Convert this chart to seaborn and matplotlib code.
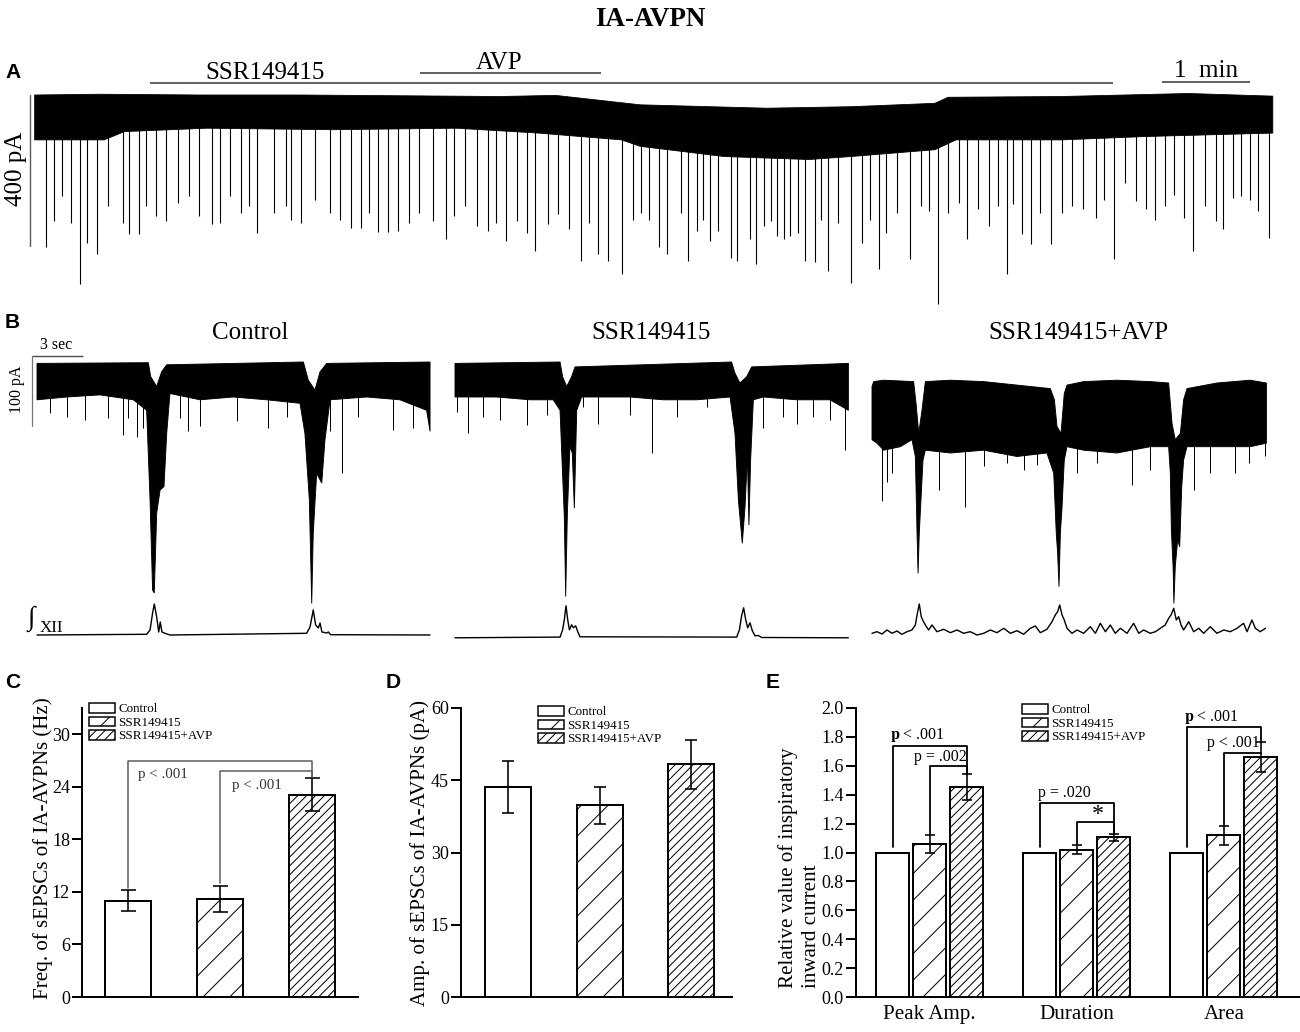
import numpy as np
import pandas as pd
import matplotlib
matplotlib.use("Agg")
import matplotlib.pyplot as plt
import seaborn as sns
from matplotlib.patches import Patch

# ======================= DATA =======================
conditions = ["Control", "SSR149415", "SSR149415+AVP"]
hatches = ["", "/", "///"]

# ---- Panel A : long recording (time in min, current in pA; 0 = top of baseline band)
a_top_t = [0.03, 0.77, 1.91, 3.05, 4.18, 5.32, 5.95, 6.68, 6.91, 8.35, 9.31, 10.26, 10.41, 11.70, 13.14, 14.10]
a_top_pA = [0, 2, 0, 0, -2, -4, -1, -20, -26, -35, -31, -22, -6, -4, 4, -3]
a_bot_t = [0.03, 0.82, 1.05, 1.99, 3.41, 4.82, 5.76, 6.70, 6.91, 7.86, 8.83, 9.31, 10.26, 10.50, 11.70, 12.66, 14.10]
a_bot_pA = [-119, -119, -97, -88, -92, -88, -101, -119, -136, -163, -171, -163, -145, -119, -119, -110, -101]
a_spike_t = [0.16, 0.25, 0.34, 0.44, 0.54, 0.63, 0.74, 0.86, 1.03, 1.10, 1.22, 1.29, 1.41, 1.52, 1.66, 1.78,
             1.90, 2.04, 2.14, 2.25, 2.37, 2.47, 2.56, 2.75, 2.89, 2.94, 3.06, 3.22, 3.39, 3.50, 3.62, 3.74,
             3.83, 3.93, 4.05, 4.16, 4.28, 4.40, 4.56, 4.71, 4.80, 4.92, 5.06, 5.18, 5.27, 5.39, 5.51, 5.63,
             5.72, 5.86, 5.98, 6.10, 6.24, 6.33, 6.43, 6.54, 6.71, 6.83, 6.92,
             7.01, 7.13, 7.22, 7.37, 7.46, 7.56, 7.63, 7.70, 7.80, 7.94, 8.01, 8.16, 8.23, 8.32, 8.40, 8.47,
             8.54, 8.61, 8.71, 8.78, 8.90, 8.97, 9.04, 9.16, 9.31, 9.43, 9.52, 9.62, 9.71, 9.83, 9.98, 10.10,
             10.19, 10.29, 10.41, 10.53, 10.63, 10.75, 10.87, 10.98, 11.08, 11.15, 11.25, 11.35, 11.46, 11.58,
             11.70, 11.82, 11.94, 12.09, 12.18, 12.30, 12.42, 12.54, 12.66, 12.76, 12.88, 12.98, 13.09, 13.19,
             13.33, 13.46, 13.53, 13.65, 13.74, 13.84, 13.93, 14.06]
a_spike_pA = [-404, -334, -268, -338, -501, -391, -422, -294, -338, -369, -369, -294, -321, -334, -286, -268,
              -321, -343, -338, -268, -312, -294, -365, -312, -294, -330, -338, -277, -312, -330, -352, -352,
              -312, -363, -363, -360, -338, -312, -334, -382, -321, -294, -347, -360, -338, -387, -334, -365,
              -413, -343, -316, -356, -440, -338, -422, -440, -475, -330, -312,
              -330, -404, -422, -312, -440, -360, -330, -387, -360, -431, -440, -382, -448, -347, -334, -374,
              -382, -374, -365, -440, -442, -330, -466, -338, -497, -391, -330, -461, -365, -312, -435, -294,
              -308, -554, -312, -286, -382, -303, -347, -294, -475, -290, -369, -396, -312, -396, -312, -294,
              -303, -325, -277, -435, -233, -281, -303, -330, -294, -264, -325, -413, -294, -334, -356, -272,
              -268, -277, -308, -378]
ssr_on_off = [1.34, 12.28]      # min
avp_on_off = [4.41, 6.47]       # min
a_time_bar = [12.84, 13.84]     # 1 min
a_scale_pA = 400

# ---- Panel B : expanded traces (time in s, current in pA), integrated XII (a.u.)
ctrl_up_t = [0.0, 6.55, 6.69, 7.04, 7.33, 7.63, 15.67, 15.96, 16.35, 16.65, 17.04, 23.12]
ctrl_up_pA = [-2, -1, -21, -35, -14, -4, 0, -26, -40, -14, -2, 0]
ctrl_lo_t = [0.0, 1.75, 3.71, 5.67, 6.45, 6.65, 6.80, 6.90, 7.04, 7.24, 7.47, 7.63, 7.82, 9.59, 11.55,
             13.51, 15.47, 15.76, 16.02, 16.16, 16.25, 16.45, 16.75, 16.94, 17.24, 19.39, 21.35, 22.92, 23.12]
ctrl_lo_pA = [-54, -50, -47, -54, -69, -197, -326, -330, -216, -183, -178, -102, -45, -54, -50,
              -54, -59, -102, -197, -345, -245, -159, -173, -111, -54, -50, -54, -69, -99]
ctrl_sp_t = [0.76, 1.75, 2.82, 4.20, 5.08, 5.37, 5.86, 6.25, 8.41, 8.90, 9.59, 11.75, 13.61, 14.69,
             17.24, 17.92, 18.90, 20.96, 22.14]
ctrl_sp_pA = [-73, -78, -83, -80, -104, -80, -107, -95, -80, -99, -92, -85, -95, -78, -99, -159, -78, -97, -95]
ctrl_xii_t = [0, 6.45, 6.65, 6.80, 6.90, 7.04, 7.16, 7.25, 7.35, 7.53, 7.82, 15.86, 16.06, 16.25, 16.39,
              16.55, 16.65, 16.76, 17.04, 17.14, 17.27, 23.12]
ctrl_xii = [0, 0.7, 5, 22, 31, 18, 3, 13, 3, 1.7, 0, 1.7, 8, 25, 10, 7, 12, 3, 2, 3, 0.3, 0]

ssr_up_t = [0, 6.18, 6.33, 6.57, 6.86, 7.06, 16.27, 16.47, 16.76, 17.16, 17.45, 23.14]
ssr_up_pA = [-2, 0, -21, -35, -21, -7, 0, -16, -30, -21, -7, -2]
ssr_lo_t = [0, 2.45, 4.41, 5.78, 6.18, 6.31, 6.43, 6.51, 6.61, 6.76, 6.90, 7.02, 7.16, 7.45, 10.29,
            12.25, 14.22, 16.18, 16.47, 16.67, 16.90, 17.06, 17.20, 17.29, 17.39, 17.55, 18.14, 20.10, 22.06, 23.14]
ssr_lo_pA = [-50, -50, -54, -54, -69, -149, -221, -335, -216, -121, -130, -209, -69, -50, -50,
             -54, -54, -50, -102, -197, -259, -207, -135, -233, -140, -54, -50, -54, -54, -69]
ssr_sp_t = [0.10, 0.78, 1.67, 2.65, 4.22, 5.39, 7.55, 8.43, 10.29, 11.57, 13.04, 14.80, 18.14, 19.31,
            20.10, 21.08, 22.06, 22.94]
ssr_sp_pA = [-71, -102, -78, -83, -90, -76, -64, -88, -76, -130, -78, -64, -95, -78, -88, -78, -83, -126]
ssr_xii_t = [0, 6.18, 6.33, 6.43, 6.53, 6.63, 6.73, 6.86, 6.96, 7.10, 7.20, 7.35, 16.57, 16.73, 16.86,
             16.98, 17.10, 17.22, 17.35, 17.49, 17.65, 17.84, 18.04, 23.14]
ssr_xii = [0, 0.7, 8, 18, 32, 18, 8, 13, 10, 12, 7, 1, 0.7, 8, 22, 30, 18, 10, 15, 7, 2, 2.3, 0.3, 0]

avp_up_t = [0.00, 0.10, 0.69, 2.45, 2.59, 2.75, 2.94, 3.14, 4.61, 6.57, 8.53, 10.49, 10.73, 10.88, 11.12,
            11.31, 11.47, 12.45, 14.41, 16.37, 17.45, 17.65, 17.84, 18.14, 18.33, 18.53, 20.29, 22.25, 23.20]
avp_up_pA = [-35, -28, -26, -28, -59, -102, -69, -28, -26, -28, -33, -38, -54, -92, -102,
             -45, -33, -28, -26, -28, -30, -88, -111, -102, -54, -38, -30, -26, -30]
avp_lo_t = [0.00, 0.29, 0.69, 1.67, 2.35, 2.55, 2.65, 2.71, 2.78, 2.88, 3.00, 3.14, 4.61, 6.57, 8.53,
            10.29, 10.69, 10.84, 10.92, 11.00, 11.08, 11.18, 11.31, 11.47, 12.45, 14.41, 16.37, 17.45,
            17.55, 17.61, 17.71, 17.76, 17.84, 17.98, 18.10, 18.22, 18.33, 18.53, 20.29, 22.25, 23.20]
avp_lo_pA = [-111, -116, -126, -121, -111, -135, -245, -302, -245, -197, -140, -126, -130, -126, -135,
             -130, -159, -245, -273, -321, -245, -207, -140, -121, -126, -130, -121, -121,
             -159, -240, -292, -345, -292, -254, -264, -178, -140, -121, -121, -121, -116]
avp_sp_t = [0.59, 0.88, 1.18, 3.92, 5.49, 6.57, 7.94, 8.92, 9.71, 12.06, 13.24, 15.29, 16.37, 18.92,
            19.90, 21.37, 22.16, 23.14]
avp_sp_pA = [-199, -171, -159, -183, -207, -149, -145, -154, -147, -159, -145, -176, -154, -183,
             -159, -159, -145, -135]
avp_xii_t = [0.00, 0.29, 0.59, 0.88, 1.18, 1.47, 1.76, 2.06, 2.35, 2.55, 2.65, 2.78, 2.90, 3.04, 3.20,
             3.33, 3.53, 3.82, 4.22, 4.61, 5.00, 5.39, 5.78, 6.18, 6.57, 6.96, 7.35, 7.75, 8.14, 8.53,
             8.92, 9.31, 9.61, 9.90, 10.29, 10.59, 10.78, 10.92, 11.04, 11.18, 11.31, 11.47, 11.76, 12.06,
             12.45, 12.84, 13.14, 13.43, 13.73, 14.02, 14.31, 14.61, 15.00, 15.39, 15.69, 15.98, 16.37,
             16.67, 16.96, 17.25, 17.45, 17.59, 17.75, 17.90, 18.04, 18.18, 18.33, 18.63, 18.92, 19.22,
             19.51, 19.90, 20.29, 20.69, 21.08, 21.47, 21.86, 22.06, 22.35, 22.55, 22.84, 23.14]
avp_xii = [1.7, 3.3, 1.0, 5.0, 1.7, 4.0, 0.7, 3.3, 5.0, 10, 20, 31, 18, 13, 8.3, 5, 10, 3.3, 5.7, 2.3,
           5, 1.7, 3.3, 0, 1.7, 5, 2.3, 6.7, 1.7, 4.3, 0.7, 6.7, 9, 2.3, 5.7, 13.3, 20, 23.3, 30, 20,
           15, 6.7, 1.7, 5, 1.7, 8.3, 1.7, 11.7, 3.3, 10, 1.7, 6.7, 1.7, 11.7, 1.7, 5, 1.7, 3.3, 6.7, 10,
           16.7, 20, 26.7, 15, 18.3, 10, 5, 13.3, 3.3, 6.7, 1.7, 8.3, 1.7, 5, 3.3, 6.7, 11.7, 3.3, 15, 6.7,
           3.3, 6.7]
b_titles = ["Control", "SSR149415", "SSR149415+AVP"]
b_time_bar = [-0.29, 2.71]    # 3 s
b_scale_pA = 100

# ---- Panel C : sEPSC frequency (Hz)
c_means = [11.0, 11.2, 23.1]
c_err = [1.2, 1.5, 1.9]
c_brackets = [(0, 2, 12.5, 27.0, 25.1), (1, 2, 13.0, 25.8, 25.1)]
c_p_labels = ["p < .001", "p < .001"]
c_p_xy = [(0.38, 25.4), (1.40, 24.2)]

# ---- Panel D : sEPSC amplitude (pA)
d_means = [43.6, 39.8, 48.3]
d_err = [5.3, 3.8, 5.1]

# ---- Panel E : relative inspiratory inward current
measures = ["Peak Amp.", "Duration", "Area"]
e_ctrl = [1.0, 1.0, 1.0]
e_ssr = [1.06, 1.02, 1.12]
e_ssr_err = [0.06, 0.03, 0.065]
e_avp = [1.45, 1.105, 1.66]
e_avp_err = [0.09, 0.025, 0.105]
e_brackets = [(0, 0, 2, 1.04, 1.74, 1.54), (0, 1, 2, 1.12, 1.60, 1.54),
              (1, 0, 2, 1.04, 1.344, 1.13), (1, 1, 2, 1.057, 1.21, 1.13),
              (2, 0, 2, 1.04, 1.87, 1.772), (2, 1, 2, 1.19, 1.69, 1.69)]
e_p_labels = [r"$\mathbf{p}$ < .001", "p = .002", "p = .020", "*", r"$\mathbf{p}$ < .001", "p < .001"]
e_p_xy = [(-0.085, 1.81), (0.076, 1.66), (0.915, 1.413), (1.144, 1.26), (1.915, 1.938), (2.065, 1.756)]

# ======================= STYLE =======================
sns.set_theme(style="white")
plt.rcParams["font.family"] = ["Liberation Serif", "DejaVu Serif"]
plt.rcParams["mathtext.fontset"] = "stix"
plt.rcParams["text.color"] = "black"
plt.rcParams["axes.labelcolor"] = "black"
plt.rcParams["xtick.color"] = "black"
plt.rcParams["ytick.color"] = "black"

W, H, DPI = 1300, 1032, 80
plt.rcParams["hatch.linewidth"] = 1.0 * 72 / DPI


def P(px):
    return px * 72.0 / DPI


fig = plt.figure(figsize=(W / DPI, H / DPI), dpi=DPI)
fig.patch.set_facecolor("white")


def ftext(x, y, s, **kw):
    return fig.text(x / W, 1 - y / H, s, **kw)


def px_axes(x0, y0, x1, y1):
    return fig.add_axes([x0 / W, 1 - y1 / H, (x1 - x0) / W, (y1 - y0) / H])


def set_trace_limits(ax, box, origin, xs, ys):
    x0, y0, x1, y1 = box
    ox, oy = origin
    ax.set_xlim((x0 - ox) / xs, (x1 - ox) / xs)
    ax.set_ylim(-(y1 - oy) / ys, -(y0 - oy) / ys)
    ax.axis("off")


SANS = ["Liberation Sans", "DejaVu Sans"]

# title and panel letters
ftext(650, 19, "IA-AVPN", ha="center", va="center", fontsize=P(27), fontweight="bold")
for letter, (lx, ly) in zip("ABCDE", [(5, 73), (5, 322), (5, 683), (386, 683), (766, 683)]):
    ftext(lx, ly, letter, ha="left", va="center", fontsize=P(21), fontweight="bold", family=SANS)

# ======================= PANEL A =======================
boxA = (0, 40, 1300, 320)
axA = px_axes(*boxA[:2], *boxA[2:])
axA.fill(a_top_t + a_bot_t[::-1], a_top_pA + a_bot_pA[::-1], color="black", lw=P(0.8))
a_start = np.interp(a_spike_t, a_bot_t, a_bot_pA) + 30
axA.vlines(a_spike_t, a_start, a_spike_pA, color="black", lw=P(1.1))
axA.plot(ssr_on_off, [31.8, 31.8], color="0.25", lw=P(1.6), solid_capstyle="butt")
axA.plot(avp_on_off, [58.3, 58.3], color="0.25", lw=P(1.6), solid_capstyle="butt")
axA.plot(a_time_bar, [34.5, 34.5], color="0.25", lw=P(1.6), solid_capstyle="butt")
axA.plot([-0.023, -0.023], [0, -a_scale_pA], color="0.35", lw=P(1.4))
axA.text(2.65, 58.3, "SSR149415", ha="center", va="center", fontsize=P(25))
axA.text(5.31, 84.8, "AVP", ha="center", va="center", fontsize=P(25))
axA.text(13.34, 63.6, "1  min", ha="center", va="center", fontsize=P(25))
axA.text(-0.18, -196, f"{a_scale_pA} pA", ha="center", va="center", rotation=90, fontsize=P(25))
set_trace_limits(axA, boxA, (32, 95), 88, 1 / 2.65)

# ======================= PANEL B =======================
PA_PER_PX = 1.4286
traces = [
    (ctrl_up_t, ctrl_up_pA, ctrl_lo_t, ctrl_lo_pA, ctrl_sp_t, ctrl_sp_pA, ctrl_xii_t, ctrl_xii, -390,
     (0, 340, 440, 652), (37, 362), 250),
    (ssr_up_t, ssr_up_pA, ssr_lo_t, ssr_lo_pA, ssr_sp_t, ssr_sp_pA, ssr_xii_t, ssr_xii, -394,
     (440, 340, 860, 652), (455, 362), 651),
    (avp_up_t, avp_up_pA, avp_lo_t, avp_lo_pA, avp_sp_t, avp_sp_pA, avp_xii_t, avp_xii, -390,
     (860, 340, 1290, 652), (872, 362), 1078),
]
axB = []
for k, (ut, up, lt, lp, st, sp, xt, xa, base, box, origin, tx) in enumerate(traces):
    ax = px_axes(*box[:2], *box[2:])
    ax.fill(list(ut) + list(lt[::-1]), list(up) + list(lp[::-1]), color="black", lw=P(0.9))
    s0 = np.interp(st, lt, lp) + 15
    ax.vlines(st, s0, sp, color="black", lw=P(1.0))
    sns.lineplot(x=xt, y=[base + a * PA_PER_PX for a in xa], ax=ax, color="black",
                 lw=P(1.4), estimator=None, sort=False, legend=False)
    set_trace_limits(ax, box, origin, 17, 1 / PA_PER_PX)
    ftext(tx, 333, b_titles[k], ha="center", va="center", fontsize=P(25))
    axB.append(ax)

axc = axB[0]
axc.plot(b_time_bar, [8.6, 8.6], color="0.3", lw=P(1.4), solid_capstyle="butt")
axc.plot([b_time_bar[0]] * 2, [8.6, 8.6 - b_scale_pA], color="0.45", lw=P(1.2))
ftext(56, 345, "3 sec", ha="center", va="center", fontsize=P(16))
ftext(17, 389, f"{b_scale_pA} pA", ha="center", va="center", rotation=90, fontsize=P(16))
ftext(31, 619, "\u222b", ha="center", va="center", fontsize=P(27))
ftext(40, 628, "XII", ha="left", va="center", fontsize=P(17))


# ======================= BAR PANELS =======================
def style_bar_axes(ax, ylim, yticks, ylabels):
    ax.set_ylim(*ylim)
    ax.set_yticks(yticks)
    ax.set_yticklabels(ylabels)
    for s in ["top", "right"]:
        ax.spines[s].set_visible(False)
    for s in ["left", "bottom"]:
        ax.spines[s].set_linewidth(P(2))
        ax.spines[s].set_color("black")
    ax.tick_params(axis="y", direction="out", left=True, length=P(10), width=P(2),
                   labelsize=P(18), pad=P(2), colors="black")
    ax.set_xlabel("")
    ax.grid(False)
    ax.set_facecolor("white")


def add_legend(ax, x, y):
    handles = [Patch(facecolor="white", edgecolor="black", hatch=h, linewidth=P(1.5)) for h in hatches]
    ax.legend(handles, conditions, loc="upper left", bbox_to_anchor=(x / W, 1 - y / H),
              bbox_transform=fig.transFigure, frameon=False, borderpad=0, borderaxespad=0,
              fontsize=P(13), handlelength=2.0, handleheight=0.75, labelspacing=0.1,
              handletextpad=0.25)


# ---- C
axC = px_axes(82, 708, 358, 997)
dfC = pd.DataFrame({"condition": conditions, "value": c_means})
sns.barplot(data=dfC, x="condition", y="value", order=conditions, ax=axC, color="white",
            saturation=1, edgecolor="black", linewidth=P(2), width=0.51, errorbar=None)
c_x = []
for patch, h in zip(axC.containers[0], hatches):
    patch.set_hatch(h)
    c_x.append(patch.get_x() + patch.get_width() / 2)
axC.errorbar(c_x, c_means, yerr=c_err, fmt="none", ecolor="black", elinewidth=P(1.6),
             capsize=P(7.5), capthick=P(1.6))
for (i, j, yl, yt, yr) in c_brackets:
    axC.plot([c_x[i], c_x[i], c_x[j], c_x[j]], [yl, yt, yt, yr], color="0.35", lw=P(1.5))
for lab, (px_, py_) in zip(c_p_labels, c_p_xy):
    axC.text(px_, py_, lab, ha="center", va="center", fontsize=P(15), color="0.2")
style_bar_axes(axC, (0, 33), [0, 6, 12, 18, 24, 30], ["0", "6", "12", "18", "24", "30"])
axC.set_xlim(-0.5, 2.5)
axC.tick_params(axis="x", length=0, labelbottom=False)
axC.set_ylabel("Freq. of sEPSCs of IA-AVPNs (Hz)", fontsize=P(21))
axC.yaxis.set_label_coords(-0.105, 0.515)
add_legend(axC, 89, 703)

# ---- D
axD = px_axes(461, 708, 732, 997)
dfD = pd.DataFrame({"condition": conditions, "value": d_means})
sns.barplot(data=dfD, x="condition", y="value", order=conditions, ax=axD, color="white",
            saturation=1, edgecolor="black", linewidth=P(2), width=0.503, errorbar=None)
d_x = []
for patch, h in zip(axD.containers[0], hatches):
    patch.set_hatch(h)
    d_x.append(patch.get_x() + patch.get_width() / 2)
axD.errorbar(d_x, d_means, yerr=d_err, fmt="none", ecolor="black", elinewidth=P(1.6),
             capsize=P(6), capthick=P(1.6))
style_bar_axes(axD, (0, 60), [0, 15, 30, 45, 60], ["0", "15", "30", "45", "60"])
axD.set_xlim(-0.514, 2.448)
axD.tick_params(axis="x", length=0, labelbottom=False)
axD.set_ylabel("Amp. of sEPSCs of IA-AVPNs (pA)", fontsize=P(21))
axD.yaxis.set_label_coords(-0.114, 0.50)
add_legend(axD, 538, 706)

# ---- E
axE = px_axes(856, 708, 1299, 997)
rows = []
for m_i, m in enumerate(measures):
    for c, vals in zip(conditions, [e_ctrl, e_ssr, e_avp]):
        rows.append({"measure": m, "condition": c, "value": vals[m_i]})
dfE = pd.DataFrame(rows)
sns.barplot(data=dfE, x="measure", y="value", hue="condition", order=measures, hue_order=conditions,
            palette={c: "white" for c in conditions}, saturation=1, edgecolor="black",
            linewidth=P(2), width=0.755, gap=0.11, errorbar=None, legend=False, ax=axE)
e_x = []
for cont, h in zip(axE.containers, hatches):
    xs = []
    for patch in cont:
        patch.set_hatch(h)
        xs.append(patch.get_x() + patch.get_width() / 2)
    e_x.append(xs)
axE.errorbar(e_x[1], e_ssr, yerr=e_ssr_err, fmt="none", ecolor="black", elinewidth=P(1.6),
             capsize=P(5), capthick=P(1.6))
axE.errorbar(e_x[2], e_avp, yerr=e_avp_err, fmt="none", ecolor="black", elinewidth=P(1.6),
             capsize=P(5), capthick=P(1.6))
for (g, i, j, yl, yt, yr) in e_brackets:
    xa, xb = e_x[i][g], e_x[j][g]
    axE.plot([xa, xa, xb, xb], [yl, yt, yt, yr], color="black", lw=P(1.8))
for lab, (px_, py_) in zip(e_p_labels, e_p_xy):
    fsz = P(24) if lab == "*" else P(16)
    axE.text(px_, py_, lab, ha="center", va="center", fontsize=fsz, color="black")
style_bar_axes(axE, (0, 2.0), np.round(np.arange(0, 2.01, 0.2), 1),
               [f"{v:.1f}" for v in np.arange(0, 2.01, 0.2)])
axE.set_xlim(-0.5, 2.51)
axE.tick_params(axis="x", length=0, labelsize=P(21), pad=P(8))
axE.set_ylabel("Relative value of inspiratory\ninward current", fontsize=P(21),
               linespacing=1.3, multialignment="left")
axE.yaxis.set_label_coords(-0.079, 0.448)
add_legend(axE, 1022, 704)

fig.savefig("out.png", dpi=DPI, facecolor="white")
